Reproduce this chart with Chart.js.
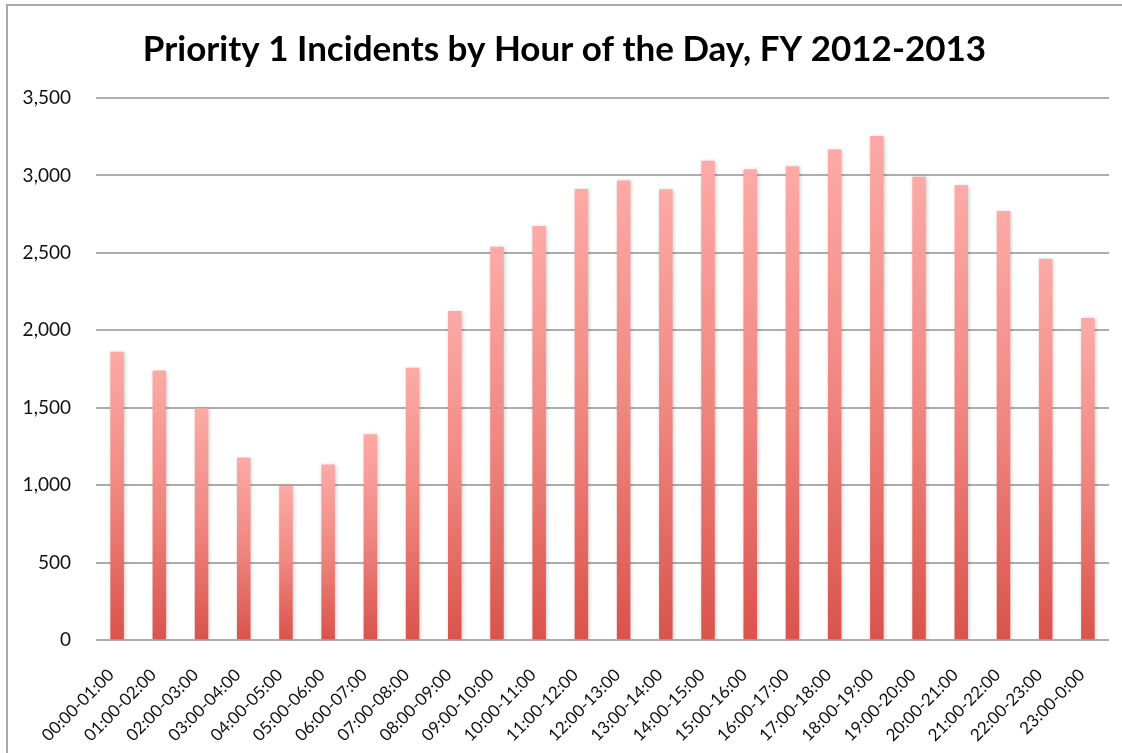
<!DOCTYPE html>
<html>
<head>
<meta charset="utf-8">
<title>Priority 1 Incidents by Hour of the Day</title>
<script src="https://cdn.jsdelivr.net/npm/chart.js@4.4.1/dist/chart.umd.min.js"></script>
<style>
  html, body { margin: 0; padding: 0; background: #ffffff; }
  #wrap { position: relative; width: 1122px; height: 753px; overflow: hidden; }
  #frame {
    position: absolute; left: 6px; top: 4px; right: -10px; bottom: -10px;
    border-left: 2px solid #a9a9a9; border-top: 2px solid #a9a9a9;
    pointer-events: none;
  }
  canvas { position: absolute; left: 0; top: 0; }
</style>
</head>
<body>
<div id="wrap">
  <canvas id="chart" width="1122" height="753"></canvas>
  <div id="frame"></div>
</div>
<script>
// Hourly buckets of the day
const hours = [
  "00:00-01:00", "01:00-02:00", "02:00-03:00", "03:00-04:00", "04:00-05:00", "05:00-06:00",
  "06:00-07:00", "07:00-08:00", "08:00-09:00", "09:00-10:00", "10:00-11:00", "11:00-12:00",
  "12:00-13:00", "13:00-14:00", "14:00-15:00", "15:00-16:00", "16:00-17:00", "17:00-18:00",
  "18:00-19:00", "19:00-20:00", "20:00-21:00", "21:00-22:00", "22:00-23:00", "23:00-0:00"
];

// Priority 1 incident counts per hour, FY 2012-2013
const incidents = [
  1861, 1740, 1497, 1178, 995, 1134,
  1329, 1758, 2124, 2539, 2673, 2912,
  2968, 2910, 3094, 3040, 3060, 3168,
  3254, 2991, 2937, 2770, 2462, 2080
];

// Value axis range
const yMax = 3500;
const yStep = 500;

const chartTitle = "Priority 1 Incidents by Hour of the Day, FY 2012-2013";
const fontFamily = "Lato, 'Open Sans', 'DejaVu Sans', sans-serif";

// Each bar fades from light pink at its top to red at its base
function barGradient(context) {
  const chart = context.chart;
  const area = chart.chartArea;
  if (!area || context.type !== 'data') return '#ee7f79';
  const yScale = chart.scales.y;
  const top = yScale.getPixelForValue(context.raw);
  const bottom = yScale.getPixelForValue(0);
  const g = chart.ctx.createLinearGradient(0, top, 0, bottom);
  g.addColorStop(0, '#fdaaa6');
  g.addColorStop(0.5, '#f08680');
  g.addColorStop(1, '#d9534b');
  return g;
}

// Soft drop shadow behind the bars
const barShadow = {
  id: 'barShadow',
  beforeDatasetsDraw(chart) {
    const ctx = chart.ctx;
    ctx.save();
    ctx.shadowColor = 'rgba(0,0,0,0.22)';
    ctx.shadowBlur = 4;
    ctx.shadowOffsetX = 1;
    ctx.shadowOffsetY = 1;
  },
  afterDatasetsDraw(chart) {
    chart.ctx.restore();
  }
};

new Chart(document.getElementById('chart'), {
  type: 'bar',
  data: {
    labels: hours,
    datasets: [{
      data: incidents,
      backgroundColor: barGradient,
      borderWidth: 0,
      barPercentage: 0.32,
      categoryPercentage: 1.0
    }]
  },
  options: {
    responsive: false,
    animation: false,
    devicePixelRatio: 1,
    layout: { padding: { left: 20, right: 13, top: 0, bottom: 0 } },
    plugins: {
      legend: { display: false },
      tooltip: { enabled: false },
      title: {
        display: true,
        text: chartTitle,
        color: '#000000',
        font: { family: fontFamily, size: 35, weight: 'bold' },
        padding: { top: 29, bottom: 27 }
      }
    },
    scales: {
      x: {
        grid: { display: false },
        border: { display: false },
        ticks: {
          color: '#111111',
          font: { family: fontFamily, size: 17 },
          minRotation: 45,
          maxRotation: 45,
          autoSkip: false,
          padding: 17,
          labelOffset: -6
        },
        afterFit(scale) { scale.height = 113; }
      },
      y: {
        min: 0,
        max: yMax,
        grid: { color: '#adadad', lineWidth: 2, drawTicks: false },
        border: { display: false },
        ticks: {
          stepSize: yStep,
          color: '#111111',
          font: { family: fontFamily, size: 19 },
          padding: 25
        },
        afterFit(scale) { scale.width = 76; }
      }
    }
  },
  plugins: [barShadow]
});
</script>
</body>
</html>
